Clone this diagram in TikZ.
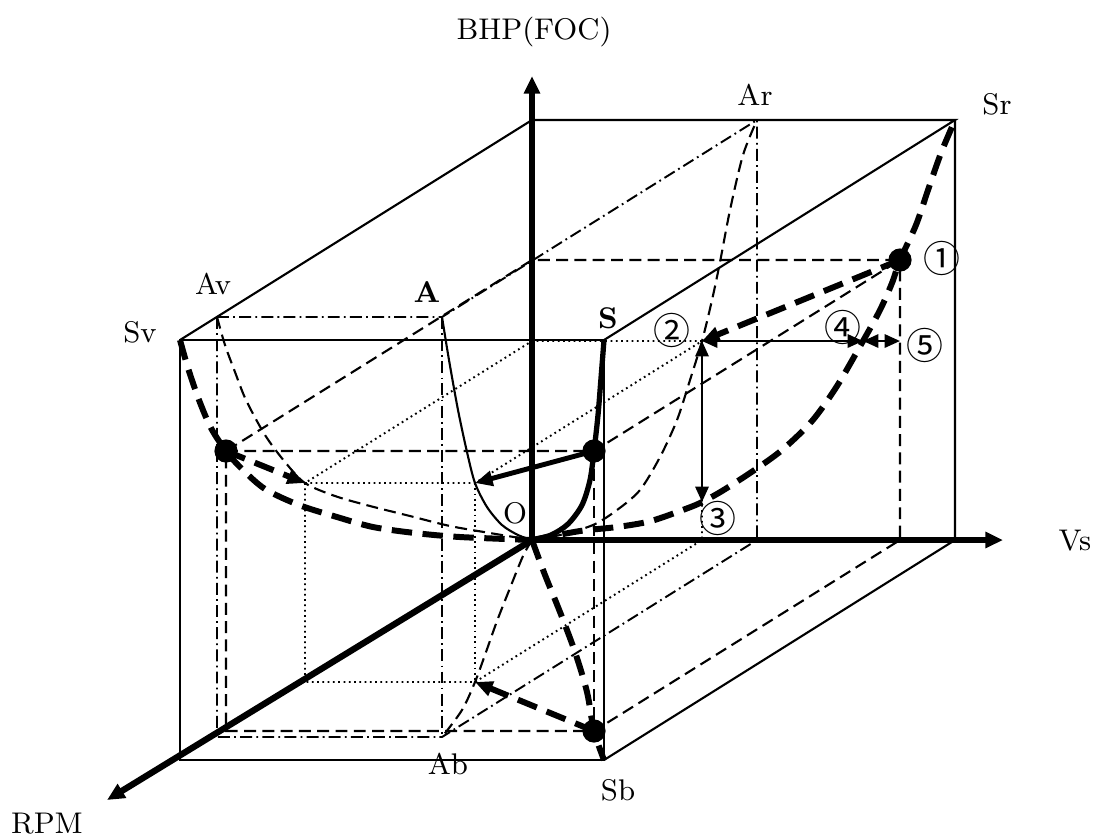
\documentclass[tikz,border=0pt]{standalone}
\usepackage{fontspec}
\newfontfamily\circfont{Noto Sans CJK JP}
\usetikzlibrary{arrows.meta}

\begin{document}
\begin{tikzpicture}[x=0.01cm,y=-0.01cm,font=\fontsize{8.5}{10}\selectfont,
  boxline/.style={line width=0.6pt},
  axisline/.style={line width=1.8pt,-{Triangle[length=5pt,width=4.4pt]}},
  bold dash/.style={line width=1.7pt,dash pattern=on 5.8pt off 3pt},
  thin dash/.style={line width=0.6pt,dash pattern=on 3.4pt off 1.8pt},
  chain/.style={line width=0.55pt,dash pattern=on 3.4pt off 1.2pt on 0.5pt off 1.2pt},
  fine dots/.style={line width=0.55pt,dash pattern=on 0.5pt off 1pt},
  headed/.style={-{Triangle[length=5pt,width=4.2pt]}},
  both tips/.style={line width=0.65pt,{Triangle[length=4.4pt,width=3.8pt]}-{Triangle[length=4.4pt,width=3.8pt]}},
  num/.style={font=\circfont\fontsize{10.5}{12}\selectfont}]
  \useasboundingbox (0,0) rectangle (1116,838);
  % box corners
  \coordinate (O) at (532,540);
  \coordinate (Sv) at (180,340);
  \coordinate (S) at (604,340);
  \coordinate (Sb) at (604,760);
  \coordinate (T) at (532,120);
  \coordinate (Sr) at (955,120);
  \coordinate (Br) at (955,540);
  \coordinate (Htip) at (532,76);
  \coordinate (Vtip) at (1003,540);
  \coordinate (Rtip) at (107,800);
  % curve A and its projections
  \coordinate (A) at (442,317);
  \coordinate (Av) at (217,317);
  \coordinate (Ar) at (757,120);
  \coordinate (Ab) at (442,737);
  \coordinate (Avb) at (217,737);
  \coordinate (Ar0) at (757,540);
  % point on curve S
  \coordinate (P) at (594,451);
  \coordinate (Pv) at (226,451);
  \coordinate (Pr) at (900,260);
  \coordinate (Pb) at (594,731);
  \coordinate (Pvb) at (226,731);
  \coordinate (Pr0) at (900,540);
  \coordinate (Ph) at (532,260);
  % point on curve A
  \coordinate (Q) at (475,483);
  \coordinate (Qv) at (305,483);
  \coordinate (Qr) at (702,341);
  \coordinate (Qb) at (475,682);
  \coordinate (Qvb) at (305,682);
  \coordinate (Qr0) at (702,540);
  \coordinate (Qh) at (532,341);
  \coordinate (R3) at (702,502);
  \coordinate (R4) at (863,341);
  \coordinate (R5) at (900,341);

  % the box
  \draw[boxline] (Sv) rectangle (Sb);
  \draw[boxline] (Sv) -- (T) -- (Sr) -- (S);
  \draw[boxline] (Sr) -- (Br) -- (Sb);

  % helper lines
  \draw[chain] (Av) -- (A) -- (Ar) -- (T);
  \draw[chain] (Av) -- (Avb) -- (Ab) -- (Ar0) -- (Ar);
  \draw[chain] (A) -- (Ab);
  \draw[thin dash] (Pv) -- (P) -- (Pr) -- (Ph) -- (Pv) -- (Pvb) -- (Pb) -- (Pr0) -- (Pr);
  \draw[thin dash] (P) -- (Pb);
  \draw[fine dots] (Qv) -- (Q) -- (Qr) -- (Qh) -- (Qv) -- (Qvb) -- (Qb) -- (Qr0) -- (Qr);
  \draw[fine dots] (Q) -- (Qb);

  % projections of A
  \draw[thin dash] plot[smooth] coordinates {(O) (560,535) (593,525) (617,510) (640,490) (660,457) (677,420) (690,380) (Qr) (712,300) (720,262) (730,210) (743,155) (Ar)};
  \draw[thin dash] plot[smooth] coordinates {(Av) (225,345) (235,372) (246,400) (265,435) (285,462) (Qv) (335,496) (370,506) (410,516) (450,526) (490,533) (O)};
  \draw[thin dash] plot[smooth] coordinates {(O) (523,556) (510,588) (497,621) (486,652) (Qb) (462,710) (Ab)};
  \draw[boxline] plot[smooth] coordinates {(A) (449,360) (458,410) (467,452) (Q) (487,507) (502,525) (518,535) (O)};

  % projections of S
  \draw[bold dash] plot[smooth] coordinates {(Sv) (188,368) (199,400) (211,428) (Pv) (241,468) (265,489) (299,505) (337,517) (373,527) (415,533) (460,537) (O)};
  \draw[bold dash] plot[smooth] coordinates {(O) (545,575) (560,612) (575,652) (587,692) (Pb) (Sb)};
  \draw[bold dash] plot[smooth] coordinates {(O) (580,531) (617,527) (651,521) (688,508) (R3) (722,491) (753,471) (782,450) (812,421) (837,386) (R4) (880,310) (892,283) (Pr) (916,225) (928,190) (941,153) (Sr)};
  \draw[line width=1.5pt] plot[smooth] coordinates {(O) (551,535) (568,524) (582,505) (590,480) (P) (598,415) (601,378) (S)};

  % axes
  \draw[axisline] (O) -- (Htip);
  \draw[axisline] (O) -- (Vtip);
  \draw[axisline] (O) -- (Rtip);

  % moves
  \draw[bold dash,headed] (Pv) -- (Qv);
  \draw[bold dash,headed] (Pb) -- (Qb);
  \draw[bold dash,headed] (Pr) -- (Qr);
  \draw[line width=1.4pt,headed] (P) -- (Q);
  \draw[both tips] (Qr) -- (R3);
  \draw[both tips] (Qr) -- (R4);
  \draw[both tips] (R4) -- (R5);

  \foreach \p in {Pv,P,Pr,Pb}
    \fill (\p) circle (3.3pt);

  % labels
  \node (lbhp) at (534,32) {BHP(FOC)};
  \node (lvs) at (1075,541) {Vs};
  \node (lrpm) at (47,824) {RPM};
  \node (lar) at (755,95) {Ar};
  \node (lsr) at (997,104) {Sr};
  \node (lav) at (213,284) {Av};
  \node (lsv) at (140,332) {Sv};
  \node (la) at (427,292) {\bfseries A};
  \node (ls) at (608,318) {\bfseries S};
  \node (lo) at (515,513) {O};
  \node (lab) at (448,764) {Ab};
  \node (lsb) at (618,790) {Sb};
  \node[num] (n1) at (942,258) {①};
  \node[num] (n2) at (672,330) {②};
  \node[num] (n3) at (718,518) {③};
  \node[num] (n4) at (843,327) {④};
  \node[num] (n5) at (925,345) {⑤};
\end{tikzpicture}
\end{document}
